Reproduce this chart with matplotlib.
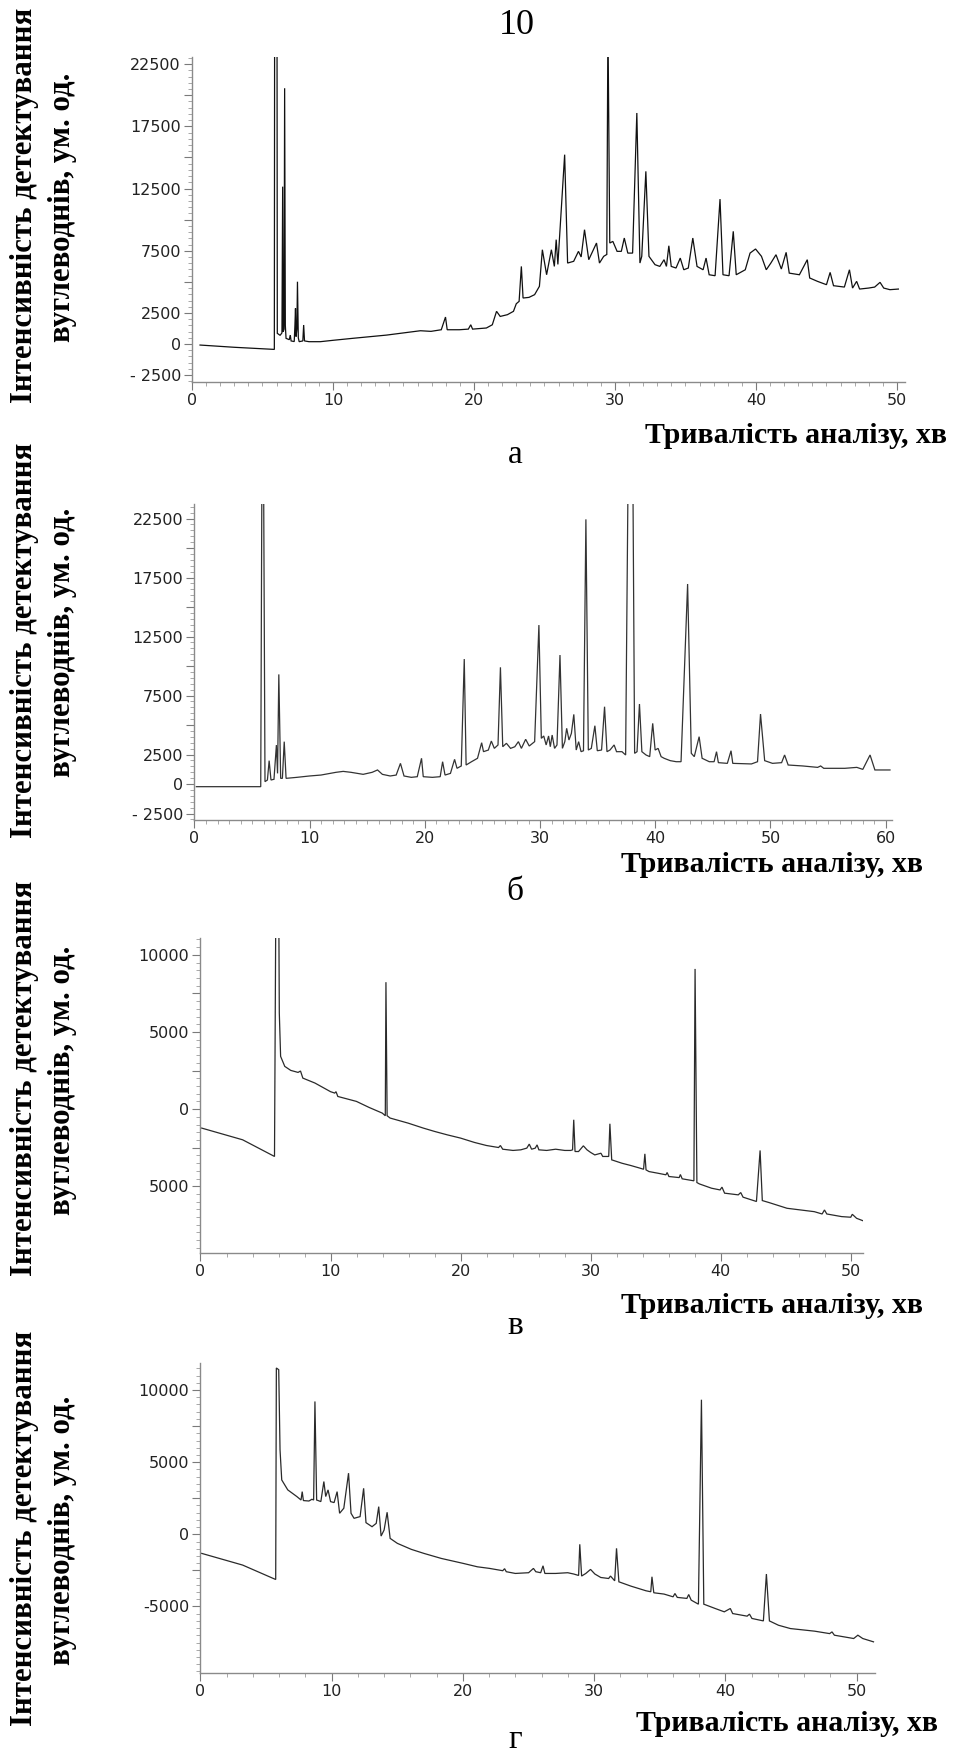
import matplotlib
matplotlib.use('Agg')
import matplotlib.pyplot as plt
from matplotlib.ticker import MultipleLocator

# ---------------- data ----------------
a_time = [0.57, 3.0, 5.84, 5.86, 6.03, 6.05, 6.25, 6.38, 6.43, 6.47, 6.53, 6.57, 6.62, 6.67, 6.90, 6.97, 7.03,
          7.25, 7.30, 7.34, 7.38, 7.44, 7.48, 7.54, 7.60, 7.86, 7.92, 7.98, 8.3, 9.1, 10.0, 11.4, 13.8, 16.2,
          16.95, 17.68, 17.98, 18.1, 18.96, 19.6, 19.77, 19.9, 20.88, 21.3, 21.6, 21.86, 22.37, 22.8, 23.0, 23.2,
          23.36, 23.48, 23.9, 24.3, 24.64, 24.85, 25.15, 25.49, 25.7, 25.83, 25.95, 26.43, 26.64, 27.07, 27.41,
          27.6, 27.84, 28.14, 28.69, 28.9, 29.2, 29.42, 29.5, 29.63, 29.85, 30.15, 30.45, 30.66, 30.91, 31.25,
          31.55, 31.77, 31.9, 32.19, 32.41, 32.84, 33.18, 33.48, 33.65, 33.82, 33.99, 34.33, 34.63, 34.88, 35.2,
          35.52, 35.82, 36.25, 36.46, 36.68, 37.1, 37.45, 37.66, 38.09, 38.39, 38.6, 39.24, 39.58, 39.97, 40.39,
          40.73, 41.05, 41.42, 41.8, 42.14, 42.36, 43.08, 43.64, 43.81, 44.36, 45.0, 45.26, 45.5, 46.27, 46.63,
          46.85, 47.14, 47.35, 47.99, 48.42, 48.8, 49.06, 49.5, 50.1]
a_signal = [-80, -260, -430, 26000, 26000, 860, 700, 900, 12650, 1000, 1200, 20560, 1500, 460, 350, 720, 250,
            200, 1500, 2870, 600, 1200, 5010, 500, 190, 250, 1530, 250, 190, 190, 300, 460, 720, 1070,
            1020, 1150, 2170, 1150, 1150, 1200, 1550, 1200, 1290, 1550, 2630, 2220, 2360, 2630, 3240, 3430,
            6240, 3700, 3750, 3970, 4640, 7580, 5570, 7580, 6240, 8390, 6400, 15220, 6510, 6650, 7450,
            7000, 9190, 6780, 8120, 6510, 7050, 7200, 26000, 8120, 8250, 7450, 7450, 8520, 7310, 7310,
            18570, 6510, 7050, 13880, 7050, 6380, 6240, 6780, 6240, 7900, 6240, 6110, 6910, 5970, 6110,
            8520, 6240, 5970, 6910, 5570, 5490, 11650, 5570, 5490, 9060, 5570, 5970, 7310, 7640, 7050,
            5970, 6500, 7180, 6030, 7370, 5700, 5570, 6780, 5310, 5040, 4770, 5760, 4690, 4580, 5970,
            4500, 5040, 4420, 4500, 4580, 4960, 4500, 4370, 4420]

b_time = [0.16, 5.75, 5.85, 6.0, 6.12, 6.33, 6.48, 6.64, 6.9, 7.11, 7.21, 7.32, 7.48, 7.63, 7.79, 7.95, 8.89,
          9.98, 10.98, 11.76, 12.28, 12.91, 13.59, 14.64, 15.42, 15.89, 16.31, 16.99, 17.51, 17.88, 18.19,
          18.82, 19.34, 19.71, 19.86, 20.65, 21.33, 21.54, 21.75, 22.22, 22.58, 22.79, 23.16, 23.42, 23.58,
          24.05, 24.57, 24.93, 25.09, 25.51, 25.77, 26.03, 26.35, 26.56, 26.76, 27.08, 27.44, 27.81, 28.12,
          28.38, 28.75, 29.06, 29.53, 29.9, 30.11, 30.32, 30.53, 30.74, 30.89, 31.05, 31.26, 31.47, 31.73,
          31.94, 32.15, 32.31, 32.51, 32.72, 32.93, 33.14, 33.35, 33.56, 33.77, 33.98, 34.19, 34.45, 34.76,
          34.97, 35.34, 35.6, 35.81, 36.07, 36.43, 36.64, 37.11, 37.43, 37.64, 38.06, 38.21, 38.42, 38.63,
          38.84, 39.2, 39.52, 39.78, 39.99, 40.25, 40.51, 40.77, 41.3, 41.82, 42.24, 42.81, 43.13, 43.39,
          43.81, 44.07, 44.69, 45.11, 45.32, 45.48, 46.26, 46.58, 46.73, 48.35, 48.88, 49.14, 49.5, 50.18,
          50.97, 51.23, 51.54, 52.8, 54.1, 54.36, 54.63, 56.46, 57.5, 58.02, 58.65, 59.07, 60.38]
b_signal = [-226, -226, 26000, 26000, 200, 340, 1980, 340, 400, 3300, 900, 9290, 480, 480, 3590, 480, 565,
            680, 760, 900, 990, 1070, 990, 820, 990, 1190, 820, 680, 760, 1750, 680,
            565, 620, 2180, 620, 565, 620, 1890, 760, 900, 2090, 1330, 1530, 10590, 1610,
            1890, 2180, 3500, 2740, 2880, 3640, 3020, 3310, 9890, 3160, 3450, 3020, 3160, 3590,
            3020, 3790, 3220, 3590, 13470, 3870, 4070, 3310, 4070, 3160, 4150, 3020, 3310, 10930,
            3020, 3590, 4720, 3730, 4290, 5900, 2880, 3590, 2740, 2820, 22430, 2880, 3020, 4940,
            2820, 2880, 6550, 2740, 2880, 3310, 2740, 2740, 2460, 26000, 26000, 2600, 2740, 6780,
            2740, 2460, 2320, 5140, 2880, 3020, 2320, 2180, 1980, 1890, 1890, 16950, 2600, 2320,
            4010, 2180, 1890, 1890, 2740, 1810, 1750, 2820, 1750, 1700, 1890, 5930, 1980, 1750,
            1810, 2460, 1610, 1530, 1410, 1530, 1330, 1330, 1410, 1240, 2460, 1190, 1190]

c_time = [0.09, 3.24, 5.69, 5.79, 6.02, 6.06, 6.16, 6.48, 6.94, 7.5, 7.69, 7.87, 8.8, 10.0, 10.32, 10.42, 10.56,
          11.99, 12.96, 13.98, 14.21, 14.26, 14.35, 14.58, 15.97, 17.13, 18.01, 18.98, 20.0, 21.06, 21.99,
          22.92, 23.06, 23.24, 24.03, 24.63, 25.09, 25.28, 25.46, 25.74, 25.88, 26.02, 26.62, 27.31, 28.01,
          28.47, 28.61, 28.7, 28.8, 29.07, 29.44, 29.72, 30.0, 30.32, 30.79, 30.93, 31.39, 31.48, 31.62,
          32.41, 33.1, 33.8, 34.07, 34.17, 34.26, 34.49, 35.19, 35.79, 35.88, 36.02, 36.81, 36.9, 37.04,
          37.94, 38.03, 38.17, 38.36, 39.3, 39.95, 40.1, 40.3, 41.35, 41.54, 41.72, 42.75, 43.03, 43.2,
          43.72, 45.1, 47.2, 47.8, 47.98, 48.16, 49.3, 50.0, 50.12, 50.45, 51.1]
c_signal = [-1230, -1990, -3070, 13000, 13000, 6230, 3420, 2770, 2510, 2380, 2470, 2010, 1690, 1130, 1040, 1130, 820,
            500, 110, -260, -430, 8230, -430, -580, -910, -1230, -1450, -1670, -1880, -2160, -2360,
            -2490, -2360, -2600, -2680, -2640, -2530, -2270, -2600, -2530, -2320, -2640, -2680, -2600, -2680,
            -2680, -2640, -690, -2750, -2750, -2380, -2640, -2810, -2970, -2860, -3070, -3070, -950, -3290,
            -3510, -3660, -3830, -3900, -2900, -3940, -4050, -4160, -4260, -4110, -4370, -4440, -4240, -4520,
            -4650, 9090, -4760, -4850, -5130, -5240, -5060, -5450, -5560, -5410, -5710, -5990, -2680, -5930,
            -6060, -6430, -6650, -6800, -6540, -6800, -6970, -7010, -6820, -7080, -7290]

d_time = [0.09, 3.21, 5.73, 5.78, 5.96, 6.06, 6.19, 6.65, 7.34, 7.66, 7.75, 7.84, 8.26, 8.49, 8.62, 8.72, 8.85,
          9.17, 9.4, 9.54, 9.72, 9.91, 10.18, 10.41, 10.6, 10.92, 11.28, 11.47, 11.7, 12.16, 12.43, 12.61,
          13.07, 13.39, 13.58, 13.76, 13.99, 14.22, 14.45, 15.0, 16.06, 17.02, 18.35, 20.0, 21.1, 22.02,
          23.03, 23.17, 23.3, 23.99, 25.0, 25.37, 25.55, 25.92, 26.1, 26.24, 27.06, 27.98, 28.44, 28.81,
          28.9, 29.04, 29.36, 29.72, 30.05, 30.5, 31.1, 31.24, 31.56, 31.7, 31.88, 32.8, 33.94, 34.31, 34.4,
          34.54, 35.32, 36.01, 36.15, 36.33, 37.06, 37.2, 37.39, 37.94, 38.17, 38.35, 39.22, 39.91, 40.37,
          40.55, 41.65, 41.83, 42.02, 42.89, 43.12, 43.35, 44.04, 44.95, 46.79, 47.94, 48.12, 48.3, 49.77,
          50.09, 50.46, 51.28]
d_signal = [-1320, -2130, -3130, 11530, 11410, 5860, 3770, 3080, 2620, 2380, 2960, 2340, 2310, 2430, 2380, 9210, 2380,
            2270, 3660, 2620, 3080, 2270, 2200, 2960, 1460, 1810, 4240, 1460, 1110, 1230, 3190, 810,
            530, 760, 1920, -120, 300, 1530, -280, -625, -1040, -1320, -1670, -2010, -2250, -2360,
            -2520, -2380, -2590, -2710, -2660, -2360, -2590, -2660, -2180, -2710, -2710, -2660, -2750, -2850,
            -690, -2890, -2710, -2430, -2750, -2990, -3060, -2890, -3220, -970, -3290, -3590, -3910, -3980, -2940,
            -4050, -4140, -4330, -4100, -4370, -4440, -4170, -4560, -4840, 9330, -4840, -5140, -5370, -5140,
            -5490, -5670, -5530, -5830, -6000, -2750, -6000, -6300, -6530, -6710, -6880, -6760, -6990, -7220,
            -6990, -7220, -7450]

ab_yticks = [-2500, 0, 2500, 5000, 7500, 10000, 12500, 15000, 17500, 20000, 22500]
ab_ylabels = ['- 2500', '0', '2500', '', '7500', '', '12500', '', '17500', '', '22500']
c_yticks = [-5000, -2500, 0, 2500, 5000, 7500, 10000]
c_ylabels = ['5000', '', '0', '', '5000', '', '10000']
d_ylabels = ['-5000', '', '0', '', '5000', '', '10000']

page_number = '10'
ylabel_line1 = 'Інтенсивність детектування'
ylabel_line2 = 'вуглеводнів, ум. од.'
xlabel_text = 'Тривалість аналізу, хв'
panel_letters = ['а', 'б', 'в', 'г']

# ---------------- layout ----------------
W, H = 954, 1752
fig = plt.figure(figsize=(W / 100, H / 100), dpi=100)
SERIF = 'Liberation Serif'
SANS = 'DejaVu Sans'


def axes_px(left, top, right, bottom):
    return fig.add_axes([left / W, 1 - bottom / H, (right - left) / W, (bottom - top) / H])


def fx(px):
    return px / W


def fy(py):
    return 1 - py / H


panels = [
    dict(box=(192, 57, 905, 382), xlim=(0, 50.57), ylim=(-3050, 23070), t=a_time, v=a_signal,
         yt=ab_yticks, yl=ab_ylabels, xminor=1, color='#111111', xmax_lab=50,
         letter_y=463, xl_right=947, xl_base=443, ylab_y=205),
    dict(box=(194.5, 504, 891.6, 820), xlim=(0, 60.52), ylim=(-3050, 23730), t=b_time, v=b_signal,
         yt=ab_yticks, yl=ab_ylabels, xminor=1, color='#333333', xmax_lab=60,
         letter_y=900, xl_right=923, xl_base=872, ylab_y=640),
    dict(box=(200.5, 938, 862.7, 1253), xlim=(0, 50.92), ylim=(-9330, 11095), t=c_time, v=c_signal,
         yt=c_yticks, yl=c_ylabels, xminor=2, color='#2a2a2a', xmax_lab=50,
         letter_y=1334, xl_right=923, xl_base=1313, ylab_y=1078),
    dict(box=(200.5, 1363, 874.8, 1673), xlim=(0, 51.38), ylim=(-9610, 11875), t=d_time, v=d_signal,
         yt=c_yticks, yl=d_ylabels, xminor=2, color='#2a2a2a', xmax_lab=50,
         letter_y=1748, xl_right=938, xl_base=1731, ylab_y=1528),
]

for i, p in enumerate(panels):
    ax = axes_px(*p['box'])
    ax.plot(p['t'], p['v'], color=p['color'], lw=0.9, solid_joinstyle='miter')
    ax.set_xlim(*p['xlim'])
    ax.set_ylim(*p['ylim'])
    for s in ('top', 'right'):
        ax.spines[s].set_visible(False)
    for s in ('left', 'bottom'):
        ax.spines[s].set_color('#8a8a8a')
        ax.spines[s].set_linewidth(1.0)
    ax.set_yticks(p['yt'], p['yl'])
    ax.yaxis.set_minor_locator(MultipleLocator(500))
    ax.set_xticks(list(range(0, p['xmax_lab'] + 1, 10)))
    ax.xaxis.set_minor_locator(MultipleLocator(p['xminor']))
    ax.tick_params(axis='both', which='major', length=6, width=0.8, color='#7a7a7a',
                   labelsize=11.5, labelcolor='#222222', pad=2)
    ax.tick_params(axis='both', which='minor', length=3, width=0.6, color='#9a9a9a')
    for lab in ax.get_xticklabels() + ax.get_yticklabels():
        lab.set_fontfamily(SANS)
    ax.patch.set_alpha(0)

    fig.text(fx(p['xl_right']), fy(p['xl_base']), xlabel_text, ha='right', va='baseline',
             fontfamily=SERIF, fontweight='bold', fontsize=21.5)
    fig.text(fx(515), fy(p['letter_y']), panel_letters[i], ha='center', va='baseline',
             fontfamily=SERIF, fontsize=24)
    fig.text(fx(25), fy(p['ylab_y']), ylabel_line1, rotation=90, ha='center', va='center',
             fontfamily=SERIF, fontweight='bold', fontsize=22.2)
    fig.text(fx(63), fy(p['ylab_y'] + 2), ylabel_line2, rotation=90, ha='center', va='center',
             fontfamily=SERIF, fontweight='bold', fontsize=22.2)

fig.text(fx(517), fy(25), page_number, ha='center', va='center', fontfamily=SERIF, fontsize=26)

fig.savefig('out.png', dpi=100)
